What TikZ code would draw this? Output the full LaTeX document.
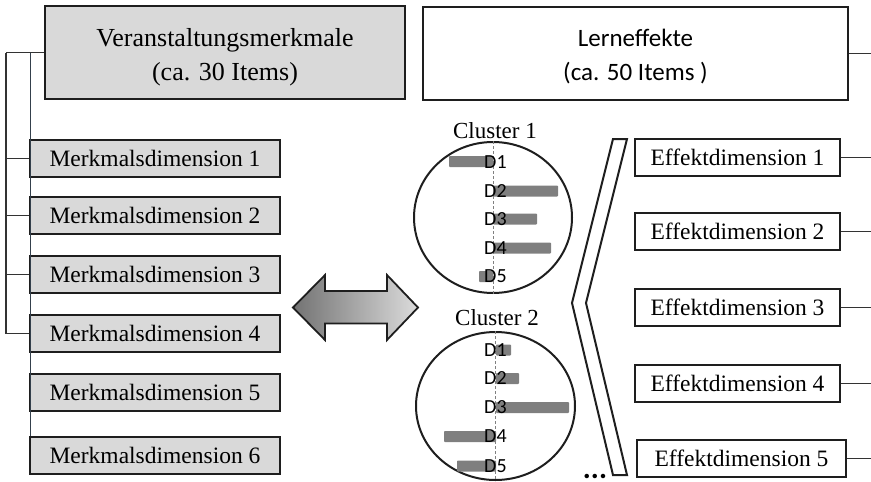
\documentclass[tikz,border=0pt]{standalone}
\usepackage{fontspec}
\setmainfont{Liberation Serif}
\newfontfamily\calib{Carlito}
\usetikzlibrary{shapes.geometric}
\definecolor{boxgray}{HTML}{D9D9D9}
\definecolor{edgec}{HTML}{1E1E1E}
\definecolor{bargray}{HTML}{7F7F7F}
\definecolor{linkc}{HTML}{333333}
\definecolor{innerc}{HTML}{34404C}
\begin{document}
\begin{tikzpicture}[x=1pt,y=-1pt,
  headbox/.style={draw=edgec, line width=2.3pt, inner sep=0pt, minimum height=93pt},
  headtext/.style={inner sep=0pt, align=center},
  dimbox/.style={draw=edgec, line width=2pt, inner sep=0pt, minimum height=37pt,
    font=\fontsize{23.5}{28}\selectfont},
  merk/.style={dimbox, fill=boxgray, minimum width=250pt},
  eff/.style={dimbox, fill=white, minimum width=205pt},
  link/.style={draw=linkc, line width=1.2pt},
  ilink/.style={draw=innerc, line width=1pt},
  rlink/.style={draw=linkc, line width=1pt},
  clus/.style={draw=edgec, line width=2pt, ellipse, inner sep=0pt},
  clab/.style={font=\fontsize{23}{27}\selectfont, inner sep=0pt},
  dlab/.style={font=\calib\fontsize{20}{22}\selectfont, inner sep=0pt, anchor=west},
  bar/.style={fill=bargray, rounded corners=0.8pt},
  axis/.style={draw=gray, line width=0.8pt, dash pattern=on 3pt off 2pt}]
\useasboundingbox (0,0) rectangle (871,482);

% upper headings
\node[headbox, fill=boxgray, minimum width=360pt] (vm) at (225,52.5) {};
\node[headtext, font=\fontsize{26}{34}\selectfont] (vmt) at ([yshift=-4.5pt]vm.center)
  {Veranstaltungsmerkmale\\(ca. 30 Items)};
\node[headbox, fill=white, minimum width=425pt] (le) at (635.5,53.5) {};
\node[headtext, font=\calib\fontsize{25}{34}\selectfont] (let) at ([yshift=-3pt]le.center)
  {Lerneffekte\\(ca. 50 Items )};

% feature dimensions
\node[merk] (md1) at (155,158.5) {Merkmalsdimension 1};
\node[merk] (md2) at (155,215.5) {Merkmalsdimension 2};
\node[merk] (md3) at (155,274.5) {Merkmalsdimension 3};
\node[merk] (md4) at (155,333.5) {Merkmalsdimension 4};
\node[merk] (md5) at (155,392.5) {Merkmalsdimension 5};
\node[merk] (md6) at (155,455.5) {Merkmalsdimension 6};

% effect dimensions
\node[eff] (ed1) at (737.5,157) {Effektdimension 1};
\node[eff] (ed2) at (737.5,231.5) {Effektdimension 2};
\node[eff] (ed3) at (737.5,307.5) {Effektdimension 3};
\node[eff] (ed4) at (737.5,383) {Effektdimension 4};
\node[eff, minimum width=209pt] (ed5) at (741.5,458.5) {Effektdimension 5};

% tree on the left
\coordinate (t0) at (6,52.5);
\coordinate (i0) at (30,52.5);
\draw[link] (t0) -- (vm.west);
\draw[link] (t0) |- (md4.west);
\draw[link] (t0 |- md1.west) -- (md1.west);
\draw[link] (t0 |- md2.west) -- (md2.west);
\draw[link] (t0 |- md3.west) -- (md3.west);
\draw[ilink] (i0) -- (i0 |- md6.north);

% lines leaving on the right
\coordinate (re) at (871,0);
\draw[rlink] (le.east) -- (le.east -| re);
\foreach \n in {ed1,ed2,ed3,ed4,ed5}
  \draw[rlink] (\n.east) -- (\n.east -| re);

% double arrow
\draw[edgec, line width=1.8pt, line join=miter, left color=black!55, right color=black!14]
  (293,307.5) -- (325,275) -- (325,291) -- (387,291) -- (387,275) -- (418,307.5)
  -- (387,340) -- (387,323.5) -- (325,323.5) -- (325,340) -- cycle;

% cluster 1
\node[clab] (cl1) at (495,131) {Cluster 1};
\node[clus, minimum width=158pt, minimum height=151pt] (c1) at (493,217.5) {};
\fill[bar] (449,156) rectangle (493,167);
\fill[bar] (493,185.5) rectangle (558,196.5);
\fill[bar] (493,213.5) rectangle (537,224.5);
\fill[bar] (493,242.5) rectangle (551,253.5);
\fill[bar] (479,271) rectangle (493,282);
\draw[axis] (c1.north) -- (c1.south);
\node[dlab] (a1) at (484,162) {D1};
\node[dlab] (a2) at (484,191) {D2};
\node[dlab] (a3) at (484,219) {D3};
\node[dlab] (a4) at (484,248) {D4};
\node[dlab] (a5) at (484,276.5) {D5};

% cluster 2
\node[clab] (cl2) at (497,318) {Cluster 2};
\node[clus, minimum width=159pt, minimum height=148pt] (c2) at (495.5,406) {};
\fill[bar] (496,344.5) rectangle (511,355.5);
\fill[bar] (496,373) rectangle (519,384);
\fill[bar] (496,402) rectangle (569,413);
\fill[bar] (444,431) rectangle (496,442);
\fill[bar] (457,460.5) rectangle (496,471.5);
\draw[axis] (c2.north) -- (c2.south);
\node[dlab] (b1) at (484,350) {D1};
\node[dlab] (b2) at (484,378.5) {D2};
\node[dlab] (b3) at (484,407.5) {D3};
\node[dlab] (b4) at (484,436.5) {D4};
\node[dlab] (b5) at (484,466) {D5};

% further clusters
\node[font=\calib\bfseries\fontsize{30}{32}\selectfont, inner sep=0pt, anchor=base]
  (more) at (595,478.5) {...};

% bracket grouping the clusters
\draw[edgec, line width=2pt, fill=white, line join=miter]
  (613,139) -- (627,139) -- (586,303) -- (627,475) -- (613,475) -- (572,303) -- cycle;
\end{tikzpicture}
\end{document}
